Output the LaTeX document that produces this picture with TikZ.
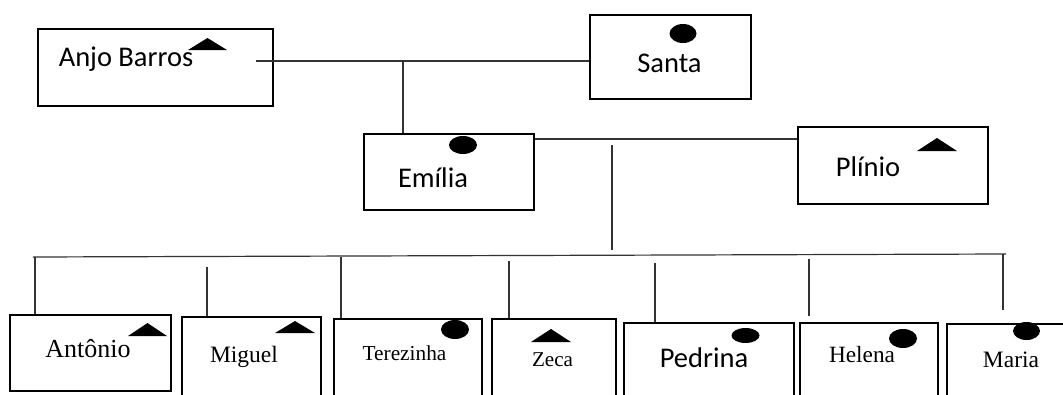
\documentclass[tikz,border=0pt]{standalone}
\usepackage{fontspec}
\setmainfont{Liberation Serif}
\newfontfamily\calib{Carlito}
\usetikzlibrary{fit}
\begin{document}
\begin{tikzpicture}[x=1pt,y=-1pt,
  box/.style={draw, line width=2.6pt, inner sep=0pt},
  link/.style={line width=1.2pt, black!80},
  sanslabel/.style={font=\calib\fontsize{28.5}{34}\selectfont, inner sep=0pt, anchor=base},
  seriflabel/.style={font=\fontsize{#1}{#1}\selectfont, inner sep=0pt, anchor=base},
  female/.style={fill=black},
  male/.style={fill=black}]
\useasboundingbox (0,0) rectangle (1063,394);
\clip (0,0) rectangle (1063,394);

% ---- parents and grandparents ----
\node[box, fit={(38,29) (273,106)}] (anjo) {};
\node[box, fit={(590,15) (751,99)}] (santa) {};
\node[box, fit={(364,134) (534,210)}] (emilia) {};
\node[box, fit={(798,127) (988,204)}] (plinio) {};

\node[sanslabel] (anjoT) at (126,66) {Anjo Barros};
\node[sanslabel] (santaT) at (669.5,72) {Santa};
\node[sanslabel] (emiliaT) at (433,187) {Emília};
\node[sanslabel] (plinioT) at (868,176) {Plínio};

% ---- children ----
\node[box, fit={(10,315) (171,391)}] (antonio) {};
\node[box, fit={(182,317) (321,400)}] (miguel) {};
\node[box, fit={(334,319) (482,400)}] (terezinha) {};
\node[box, fit={(492,319) (616,400)}] (zeca) {};
\node[box, fit={(624,323) (794,400)}] (pedrina) {};
\node[box, fit={(800,323) (938,400)}] (helena) {};
\node[box, fit={(947,324) (1080,400)}] (maria) {};

\node[seriflabel=26] (antonioT) at (88,357) {Antônio};
\node[seriflabel=23.5] (miguelT) at (244,362) {Miguel};
\node[seriflabel=21.3] (terezinhaT) at (404.5,360) {Terezinha};
\node[seriflabel=21.1] (zecaT) at (552.5,366) {Zeca};
\node[sanslabel] (pedrinaT) at (704,367) {Pedrina};
\node[seriflabel=23.3] (helenaT) at (862,362) {Helena};
\node[seriflabel=23.5] (mariaT) at (1011,367) {Maria};

% ---- sex markers: triangles for men, dots for women ----
\fill[male] (188,50) -- (207.5,38) -- (227,50) -- cycle;
\fill[male] (917,151) -- (937,138) -- (957,151) -- cycle;
\fill[male] (128,336) -- (147.5,323) -- (167,336) -- cycle;
\fill[male] (275,333) -- (295,321) -- (315,333) -- cycle;
\fill[male] (531,342) -- (551,329) -- (571,342) -- cycle;

\fill[female] (683,33.5) ellipse [x radius=13.5, y radius=9.5];
\fill[female] (463,145) ellipse [x radius=14, y radius=9];
\fill[female] (455,329.5) ellipse [x radius=14, y radius=9.5];
\fill[female] (745.5,335.5) ellipse [x radius=14, y radius=7.5];
\fill[female] (903,338.5) ellipse [x radius=14, y radius=9.5];
\fill[female] (1026.5,331) ellipse [x radius=13.5, y radius=9];

% ---- marriage lines ----
\coordinate (anjoEnd) at (256,61);
\draw[link] (anjoEnd) -- (anjoEnd -| santa.west);
\coordinate (couple1) at (403,62);
\draw[link] (couple1) -- (emilia.north -| couple1);
\coordinate (emiliaEnd) at (535,139);
\draw[link] (emiliaEnd) -- (emiliaEnd -| plinio.west);

% ---- descent to the children ----
\coordinate (stemTop) at (612,145);
\coordinate (stemBot) at (612,250);
\draw[link] (stemTop) -- (stemBot);
\coordinate (barL) at (33,257);
\coordinate (barR) at (1006,254);
\draw[link] (barL) -- (barR);

\coordinate (dA) at (35,257);
\coordinate (dM) at (207,267);
\coordinate (dT) at (341,257);
\coordinate (dZ) at (509,261);
\coordinate (dP) at (655,263);
\coordinate (dH) at (809,259);
\coordinate (dR) at (1003,254);
\coordinate (dRend) at (1003,310);
\draw[link] (dA) -- (dA |- antonio.north);
\draw[link] (dM) -- (dM |- miguel.north);
\draw[link] (dT) -- (dT |- terezinha.north);
\draw[link] (dZ) -- (dZ |- zeca.north);
\draw[link] (dP) -- (dP |- pedrina.north);
\draw[link] (dH) -- ([yshift=6pt]dH |- helena.north);
\draw[link] (dR) -- (dRend);
\end{tikzpicture}
\end{document}
